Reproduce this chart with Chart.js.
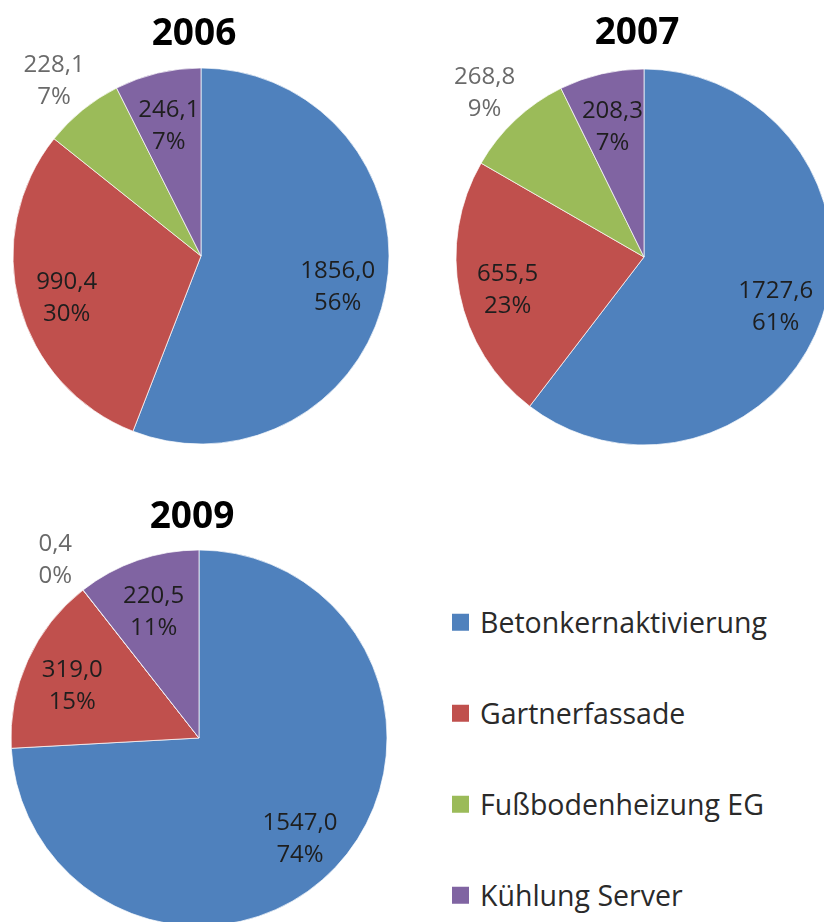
<!DOCTYPE html>
<html>
<head>
<meta charset="utf-8">
<script src="https://cdn.jsdelivr.net/npm/chart.js@4/dist/chart.umd.min.js"></script>
<style>
  html, body { margin: 0; padding: 0; background: #fff; }
  #stage { position: relative; width: 824px; height: 922px; overflow: hidden; font-family: "Open Sans", sans-serif; }
  .pie { position: absolute; width: 500px; height: 500px; }
  .title { position: absolute; font-weight: bold; font-size: 37px; line-height: 1; color: #000; transform: translate(-50%, -50%); }
  .legend { position: absolute; left: 452px; top: 0; }
  .legend-item { position: absolute; left: 0; display: flex; align-items: center; white-space: nowrap; transform: translateY(-50%); }
  .legend-box { width: 17px; height: 17px; margin-right: 11px; }
  .legend-text { font-size: 28.5px; color: #2a2a2a; line-height: 1; }
</style>
</head>
<body>
<div id="stage"></div>
<script>
const categories = ['Betonkernaktivierung', 'Gartnerfassade', 'Fußbodenheizung EG', 'Kühlung Server'];
const colors = ['#4F81BD', '#C0504D', '#9BBB59', '#8064A2'];

const values2006 = [1856.0, 990.4, 228.1, 246.1];
const percent2006 = ['56%', '30%', '7%', '7%'];

const values2007 = [1727.6, 655.5, 268.8, 208.3];
const percent2007 = ['61%', '23%', '9%', '7%'];

const values2009 = [1547.0, 319.0, 0.4, 220.5];
const percent2009 = ['74%', '15%', '0%', '11%'];

// the small green slice gets its label outside the pie
const labelOutside = [false, false, true, false];

const stage = document.getElementById('stage');

const sliceLabels = {
  id: 'sliceLabels',
  afterDatasetsDraw(chart) {
    const ctx = chart.ctx;
    const ds = chart.data.datasets[0];
    const meta = chart.getDatasetMeta(0);
    ctx.save();
    ctx.font = '24px "Open Sans"';
    ctx.textAlign = 'center';
    ctx.textBaseline = 'middle';
    meta.data.forEach((arc, i) => {
      const p = arc.getProps(['x', 'y', 'startAngle', 'endAngle', 'outerRadius'], true);
      const mid = (p.startAngle + p.endAngle) / 2;
      const out = labelOutside[i];
      const r = p.outerRadius * (out ? 1.24 : 0.74);
      const lx = p.x + Math.cos(mid) * r;
      const ly = p.y + Math.sin(mid) * r + 6;
      ctx.fillStyle = out ? '#6a6a6a' : '#1e1e1e';
      ctx.fillText(ds.data[i].toFixed(1).replace('.', ','), lx, ly - 16);
      ctx.fillText(ds.pctLabels[i], lx, ly + 16);
    });
    ctx.restore();
  }
};

function makePie(cx, cy, values, pcts, title, titleY) {
  const wrap = document.createElement('div');
  wrap.className = 'pie';
  wrap.style.left = (cx - 250) + 'px';
  wrap.style.top = (cy - 250) + 'px';
  const canvas = document.createElement('canvas');
  canvas.width = 500;
  canvas.height = 500;
  wrap.appendChild(canvas);
  stage.appendChild(wrap);

  new Chart(canvas, {
    type: 'pie',
    data: {
      labels: categories,
      datasets: [{
        data: values,
        pctLabels: pcts,
        backgroundColor: colors,
        borderColor: 'rgba(255,255,255,0.7)',
        borderWidth: 1
      }]
    },
    options: {
      responsive: false,
      animation: false,
      events: [],
      radius: 188,
      layout: { padding: 0 },
      plugins: {
        legend: { display: false },
        tooltip: { enabled: false }
      }
    },
    plugins: [sliceLabels]
  });

  const t = document.createElement('div');
  t.className = 'title';
  t.textContent = title;
  t.style.left = (cx - 7) + 'px';
  t.style.top = titleY + 'px';
  stage.appendChild(t);
}

makePie(201, 256, values2006, percent2006, '2006', 30);
makePie(644, 257, values2007, percent2007, '2007', 29);
makePie(199, 738, values2009, percent2009, '2009', 513);

// shared legend
const legendYs = [622, 713, 804, 895];
const legend = document.createElement('div');
legend.className = 'legend';
categories.forEach((name, i) => {
  const item = document.createElement('div');
  item.className = 'legend-item';
  item.style.top = legendYs[i] + 'px';
  item.innerHTML = `<div class="legend-box" style="background:${colors[i]}"></div><span class="legend-text">${name}</span>`;
  legend.appendChild(item);
});
stage.appendChild(legend);
</script>
</body>
</html>
